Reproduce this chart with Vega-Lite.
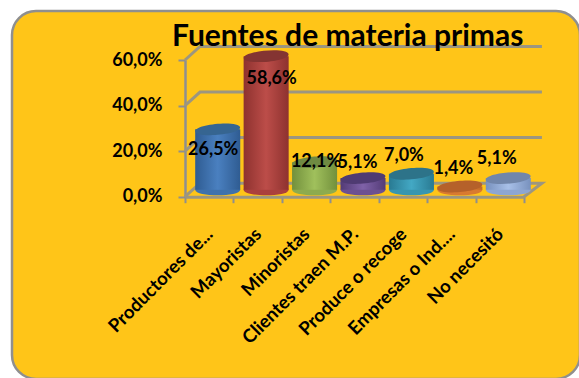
{
  "$schema": "https://vega.github.io/schema/vega-lite/v6.json",
  "autosize": {"type": "none"},
  "width": 568,
  "height": 368,
  "padding": {"left": 12, "top": 11, "right": 0, "bottom": 0},
  "background": "#ffffff",
  "view": {"fill": "#FFC518", "stroke": "#8f8f8f", "strokeWidth": 2.5, "cornerRadius": 24},
  "title": {
    "text": "Fuentes de materia primas",
    "anchor": "start",
    "frame": "group",
    "dx": 160,
    "offset": -41,
    "font": "Lato",
    "fontSize": 30,
    "fontWeight": "bold",
    "color": "#000000"
  },
  "config": {
    "axisY": {
      "title": null,
      "offset": -173,
      "labelExpr": "replace(format(datum.value, '.1f'), '.', ',') + '%'",
      "labelFont": "Lato",
      "labelFontSize": 18,
      "labelFontWeight": "bold",
      "labelColor": "#000000",
      "labelPadding": 16,
      "grid": false,
      "tickColor": "#8f8f8f",
      "tickWidth": 2,
      "tickSize": 7,
      "domainColor": "#8f8f8f",
      "domainWidth": 2.5
    },
    "text": {"font": "Lato", "fontSize": 18, "fontWeight": "bold", "color": "#000000"}
  },
  "datasets": {
    "fuentes": [
      {"fuente": "Productores de...", "pct": 26.5, "rotulo": "26,5%"},
      {"fuente": "Mayoristas", "pct": 58.6, "rotulo": "58,6%"},
      {"fuente": "Minoristas", "pct": 12.1, "rotulo": "12,1%"},
      {"fuente": "Clientes traen M.P.", "pct": 5.1, "rotulo": "5,1%"},
      {"fuente": "Produce o recoge", "pct": 7.0, "rotulo": "7,0%"},
      {"fuente": "Empresas o Ind....", "pct": 1.4, "rotulo": "1,4%"},
      {"fuente": "No necesitó", "pct": 5.1, "rotulo": "5,1%"}
    ],
    "pared": [
      {"linea": "g0", "paso": 1, "u": 0, "v": 0},
      {"linea": "g0", "paso": 2, "u": 0.31, "v": 5.93},
      {"linea": "g0", "paso": 3, "u": 7.37, "v": 5.93},
      {"linea": "g0", "paso": 4, "u": 7, "v": 0},
      {"linea": "g20", "paso": 1, "u": 0, "v": 20},
      {"linea": "g20", "paso": 2, "u": 0.31, "v": 25.93},
      {"linea": "g20", "paso": 3, "u": 7.37, "v": 25.93},
      {"linea": "g40", "paso": 1, "u": 0, "v": 40},
      {"linea": "g40", "paso": 2, "u": 0.31, "v": 45.93},
      {"linea": "g40", "paso": 3, "u": 7.37, "v": 45.93},
      {"linea": "g60", "paso": 1, "u": 0, "v": 60},
      {"linea": "g60", "paso": 2, "u": 0.31, "v": 65.93},
      {"linea": "g60", "paso": 3, "u": 7.37, "v": 65.93}
    ]
  },
  "resolve": {"scale": {"x": "independent"}},
  "layer": [
    {
      "data": {"name": "pared"},
      "mark": {"type": "line", "color": "#9c9680", "strokeWidth": 3, "interpolate": "linear"},
      "encoding": {
        "x": {"field": "u", "type": "quantitative", "axis": null, "scale": {"domain": [0, 7], "range": [173, 512], "nice": false, "zero": false}},
        "y": {"field": "v", "type": "quantitative", "axis": {"values": [0, 20, 40, 60]}, "scale": {"domain": [0, 60], "range": [185.7, 49], "nice": false}},
        "detail": {"field": "linea"},
        "order": {"field": "paso"}
      }
    },
    {
      "data": {"name": "fuentes"},
      "encoding": {
        "x": {
          "field": "fuente",
          "type": "nominal",
          "sort": null,
          "scale": {"range": [173, 512], "paddingInner": 0, "paddingOuter": 0},
          "axis": {
            "title": null,
            "offset": -182.3,
            "labelAngle": -45,
            "labelAlign": "right",
            "labelBaseline": "middle",
            "labelPadding": 28,
            "labelOffset": 0,
            "labelFont": "Lato",
            "labelFontSize": 18.5,
            "labelFontWeight": "bold",
            "labelColor": "#000000",
            "labelOverlap": false,
            "labelLimit": 0,
            "tickBand": "extent",
            "tickColor": "#8f8f8f",
            "tickWidth": 2,
            "tickSize": 6,
            "domainColor": "#9c9680",
            "domainWidth": 3
          }
        },
        "y": {"field": "pct", "type": "quantitative", "axis": {"values": [0, 20, 40, 60]}}
      },
      "resolve": {"scale": {"color": "independent"}},
      "layer": [
        {
          "mark": {
            "type": "point",
            "filled": true,
            "opacity": 1,
            "xOffset": 8.5,
            "yOffset": -7,
            "size": 2025,
            "shape": "M-1,0C-1,.33,1,.33,1,0C1,-.33,-1,-.33,-1,0Z"
          },
          "encoding": {
            "y": {"datum": 0, "type": "quantitative"},
            "color": {
              "field": "fuente",
              "type": "nominal",
              "sort": null,
              "legend": null,
              "scale": {"range": ["#3f72ad", "#ab403d", "#8dab4e", "#6c5092", "#3796b0", "#d97a30", "#8da6d2"]}
            }
          }
        },
        {
          "transform": [{"filter": "datum.fuente === 'Productores de...'"}],
          "mark": {"type": "bar", "xOffset": 8.5, "yOffset": -7, "width": {"band": 0.93}, "color": {"gradient": "linear", "x1": 0, "y1": 0, "x2": 1, "y2": 0, "stops": [{"offset": 0, "color": "#2f5c92"}, {"offset": 0.5, "color": "#4a80c0"}, {"offset": 1, "color": "#2f5c92"}]}}
        },
        {
          "transform": [{"filter": "datum.fuente === 'Mayoristas'"}],
          "mark": {"type": "bar", "xOffset": 8.5, "yOffset": -7, "width": {"band": 0.93}, "color": {"gradient": "linear", "x1": 0, "y1": 0, "x2": 1, "y2": 0, "stops": [{"offset": 0, "color": "#8e322f"}, {"offset": 0.5, "color": "#bc4d49"}, {"offset": 1, "color": "#8e322f"}]}}
        },
        {
          "transform": [{"filter": "datum.fuente === 'Minoristas'"}],
          "mark": {"type": "bar", "xOffset": 8.5, "yOffset": -7, "width": {"band": 0.93}, "color": {"gradient": "linear", "x1": 0, "y1": 0, "x2": 1, "y2": 0, "stops": [{"offset": 0, "color": "#72903c"}, {"offset": 0.5, "color": "#a0c05c"}, {"offset": 1, "color": "#72903c"}]}}
        },
        {
          "transform": [{"filter": "datum.fuente === 'Clientes traen M.P.'"}],
          "mark": {"type": "bar", "xOffset": 8.5, "yOffset": -7, "width": {"band": 0.93}, "color": {"gradient": "linear", "x1": 0, "y1": 0, "x2": 1, "y2": 0, "stops": [{"offset": 0, "color": "#533b76"}, {"offset": 0.5, "color": "#7f62a8"}, {"offset": 1, "color": "#533b76"}]}}
        },
        {
          "transform": [{"filter": "datum.fuente === 'Produce o recoge'"}],
          "mark": {"type": "bar", "xOffset": 8.5, "yOffset": -7, "width": {"band": 0.93}, "color": {"gradient": "linear", "x1": 0, "y1": 0, "x2": 1, "y2": 0, "stops": [{"offset": 0, "color": "#297a92"}, {"offset": 0.5, "color": "#43a8c4"}, {"offset": 1, "color": "#297a92"}]}}
        },
        {
          "transform": [{"filter": "datum.fuente === 'Empresas o Ind....'"}],
          "mark": {"type": "bar", "xOffset": 8.5, "yOffset": -7, "width": {"band": 0.93}, "color": {"gradient": "linear", "x1": 0, "y1": 0, "x2": 1, "y2": 0, "stops": [{"offset": 0, "color": "#bf6a26"}, {"offset": 0.5, "color": "#f08f40"}, {"offset": 1, "color": "#bf6a26"}]}}
        },
        {
          "transform": [{"filter": "datum.fuente === 'No necesitó'"}],
          "mark": {"type": "bar", "xOffset": 8.5, "yOffset": -7, "width": {"band": 0.93}, "color": {"gradient": "linear", "x1": 0, "y1": 0, "x2": 1, "y2": 0, "stops": [{"offset": 0, "color": "#7891bd"}, {"offset": 0.5, "color": "#a8c0e8"}, {"offset": 1, "color": "#7891bd"}]}}
        },
        {
          "mark": {
            "type": "point",
            "filled": true,
            "opacity": 1,
            "xOffset": 8.5,
            "yOffset": -7,
            "size": 2025,
            "angle": -5,
            "shape": "M-1,0C-1,.33,1,.33,1,0C1,-.33,-1,-.33,-1,0Z"
          },
          "encoding": {
            "color": {
              "field": "fuente",
              "type": "nominal",
              "sort": null,
              "legend": null,
              "scale": {"range": ["#366591", "#843432", "#6f8a42", "#4f3b72", "#2d7389", "#b5612a", "#7186aa"]}
            }
          }
        },
        {
          "transform": [{"filter": "datum.fuente === 'Productores de...'"}],
          "mark": {"type": "text", "dx": 4, "dy": 14},
          "encoding": {"text": {"field": "rotulo"}}
        },
        {
          "transform": [{"filter": "datum.fuente === 'Mayoristas'"}],
          "mark": {"type": "text", "dx": 14, "dy": 16},
          "encoding": {"text": {"field": "rotulo"}}
        },
        {
          "transform": [{"filter": "datum.fuente === 'Minoristas'"}],
          "mark": {"type": "text", "dx": 10, "dy": -7},
          "encoding": {"text": {"field": "rotulo"}}
        },
        {
          "transform": [{"filter": "datum.fuente === 'Clientes traen M.P.'"}],
          "mark": {"type": "text", "dx": 3, "dy": -22},
          "encoding": {"text": {"field": "rotulo"}}
        },
        {
          "transform": [{"filter": "datum.fuente === 'Produce o recoge'"}],
          "mark": {"type": "text", "dx": 1, "dy": -25},
          "encoding": {"text": {"field": "rotulo"}}
        },
        {
          "transform": [{"filter": "datum.fuente === 'Empresas o Ind....'"}],
          "mark": {"type": "text", "dx": 2, "dy": -25},
          "encoding": {"text": {"field": "rotulo"}}
        },
        {
          "transform": [{"filter": "datum.fuente === 'No necesitó'"}],
          "mark": {"type": "text", "dx": -3, "dy": -26},
          "encoding": {"text": {"field": "rotulo"}}
        }
      ]
    }
  ]
}
